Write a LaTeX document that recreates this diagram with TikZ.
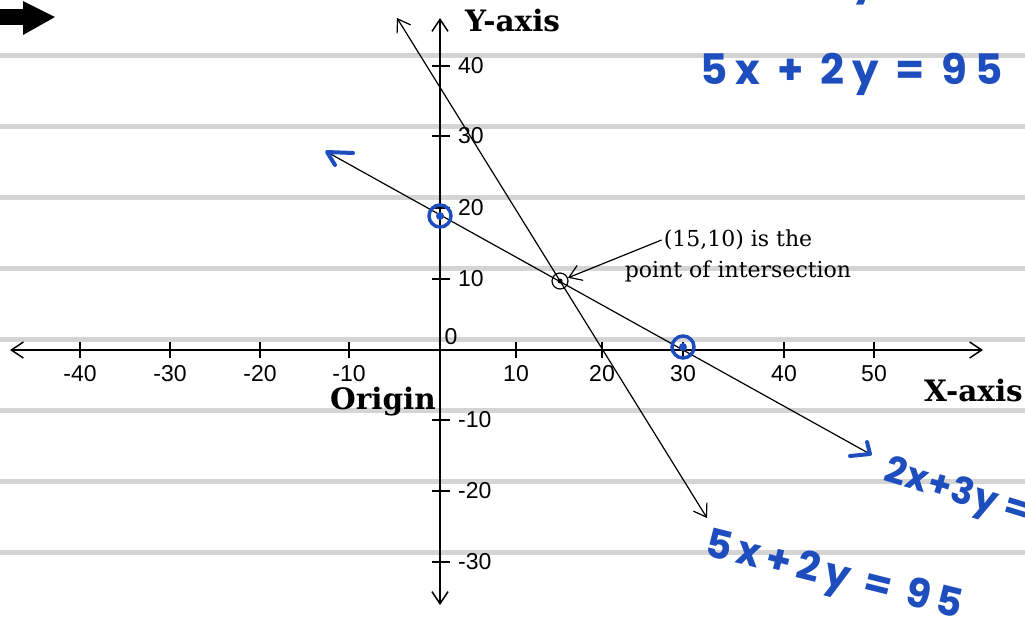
\documentclass[tikz,border=0pt]{standalone}
\usepackage{fontspec}
\setmainfont{DejaVu Serif}
\newfontfamily\numfont{Liberation Sans}
\newfontfamily\handfont[LetterSpace=16]{Poppins}
\usetikzlibrary{positioning,arrows.meta}
\definecolor{ink}{RGB}{30,78,190}
\definecolor{rulegray}{RGB}{212,212,212}

\begin{document}
\begin{tikzpicture}[x=1pt, y=-1pt, node distance=6pt,
      >={Straight Barb[length=12pt,width=16pt]},
      axis/.style={line width=1.5pt, <->},
      graph/.style={line width=1.2pt},
      tick/.style={line width=1.2pt},
      num/.style={font=\numfont\fontsize{23}{23}\selectfont, inner sep=0pt},
      title/.style={font=\bfseries\fontsize{29.5}{29.5}\selectfont, inner sep=0pt},
      note/.style={font=\fontsize{22}{22}\selectfont, inner sep=2pt},
      hand/.style={font=\handfont\bfseries\fontsize{40}{40}\selectfont, text=ink, inner sep=0pt},
      ring/.style={circle, draw=ink, line width=3.5pt, minimum size=22pt, inner sep=0pt},
      handtip/.style={draw=ink, line width=4pt, line cap=round, line join=round}]
    \useasboundingbox (0,0) rectangle (1025,619);
    \foreach \y in {55,126,197,268,339,410,481,552}
      \draw[rulegray, line width=5pt] (0,\y) -- (1025,\y);
    \fill (0,9) rectangle (24,25);
    \fill (23,1) -- (55,17) -- (23,35) -- cycle;

    \coordinate (xl) at (10,350);
    \coordinate (xr) at (983,350);
    \coordinate (yt) at (440,18);
    \coordinate (yb) at (440,605);
    \draw[axis] (xl) -- (xr);
    \draw[axis] (yb) -- (yt);
    \foreach \v/\p in {-40/80,-30/170,-20/260,-10/349,10/516,20/602,30/683,40/784,50/874} {
      \draw[tick] (\p,342) -- (\p,358);
      \node[num] at (\p,374) {\v};
    }
    \foreach \v/\p in {40/66,30/136,20/208,10/279,-10/420,-20/491,-30/562} {
      \draw[tick] (432,\p) -- (450,\p);
      \node[num, anchor=west] at (458,\p) {\v};
    }
    \node[num] (zero) at (451,337) {0};

    \coordinate (s1) at (397,18);
    \coordinate (s2) at (707,518);
    \coordinate (t1) at (327,152);
    \coordinate (t2) at (870,454);
    \draw[graph, <->] (s2) -- (s1);
    \draw[graph] (t1) -- (t2);

    \node[circle, draw, line width=1.2pt, minimum size=16pt, inner sep=0pt] (pt) at (560,281) {};
    \fill (pt.center) circle (2.5pt);
    \node[ring] (yint) at (440,216) {};
    \fill[ink] (yint.center) circle (4pt);
    \node[ring] (xint) at (683,347) {};
    \fill[ink] (xint.center) circle (4pt);

    \node[note] (n1) at (738,240) {(15,10) is the};
    \node[note, below=of n1] (n2) {point of intersection};
    \draw[graph, ->] (n1.west) -- (pt);

    \node[title, anchor=west] (ylab) at (465,20) {Y-axis};
    \node[title, anchor=base east] (orig) at (436,409) {Origin};
    \node[title, anchor=base west] (xlab) at (924,401) {X-axis};

    \draw[handtip] (353,153) -- (t1) -- (335,165);
    \draw[handtip] (867,442) -- (t2) -- (850,456);
    \node[hand, anchor=base west, font=\handfont\bfseries\fontsize{42}{42}\selectfont\addfontfeature{LetterSpace=19}] (eq1) at (700,84) {5x + 2y = 95};
    \node[hand, anchor=base west] (eqtop) at (852,-6) {y};
    \node[hand, anchor=base west, rotate=-17, font=\handfont\bfseries\fontsize{37}{37}\selectfont\addfontfeature{LetterSpace=3}] (eq2) at (882,480) {2x+3y =};
    \node[hand, anchor=base west, rotate=-14] (eq3) at (703,555) {5x+2y = 95};
  \end{tikzpicture}
\end{document}
